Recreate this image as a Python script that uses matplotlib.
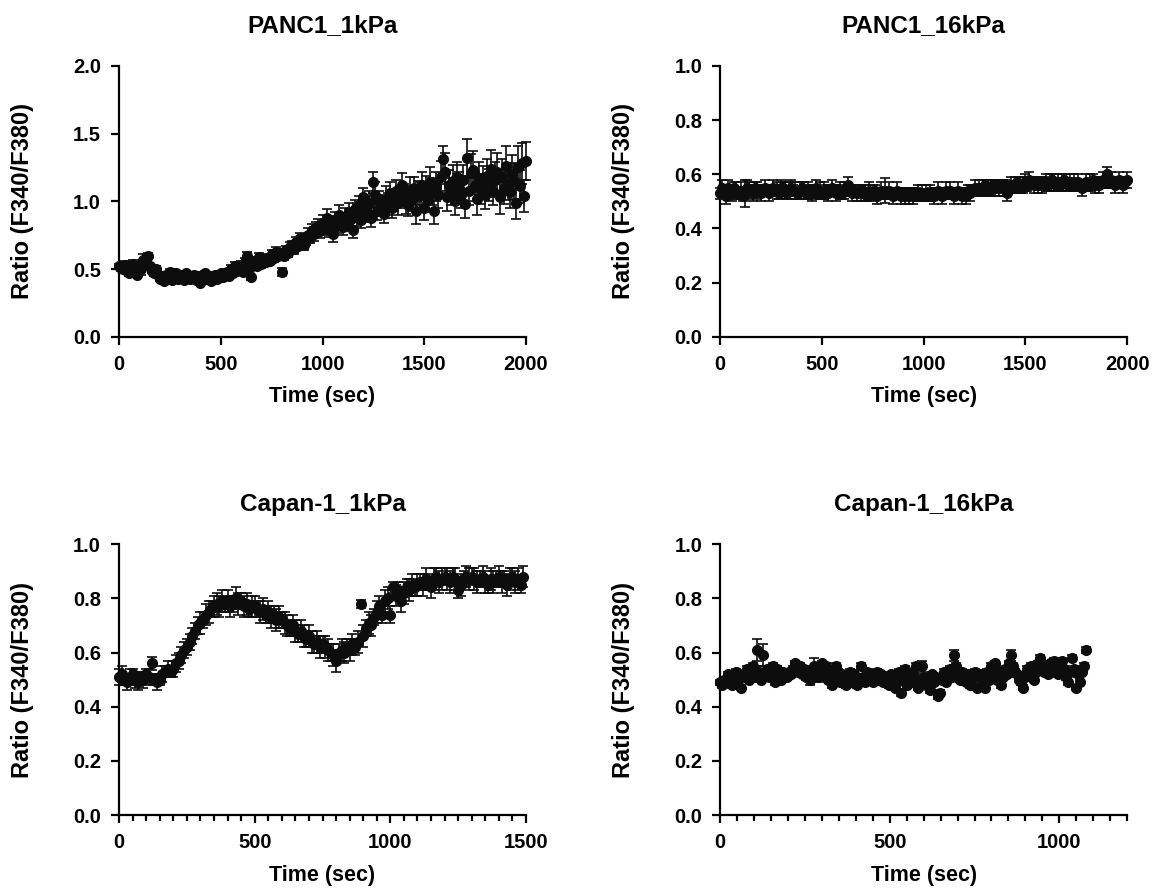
import matplotlib
matplotlib.use("Agg")
import matplotlib.pyplot as plt
from matplotlib.ticker import MultipleLocator, FormatStrFormatter

plt.rcParams['font.family'] = ['Liberation Sans', 'DejaVu Sans']
plt.rcParams['font.weight'] = 'bold'
plt.rcParams['axes.labelweight'] = 'bold'
plt.rcParams['axes.titleweight'] = 'bold'

# PANC1_1kPa, time 0..2000 every 10 s
t1 = list(range(0, 2001, 10))
r1 = [0.52, 0.51, 0.50, 0.53, 0.49, 0.47, 0.50, 0.54, 0.48, 0.46, 0.52, 0.50, 0.57, 0.55, 0.60, 0.52, 0.49, 0.47, 0.50, 0.46,
      0.43, 0.45, 0.41, 0.46, 0.44, 0.48, 0.42, 0.45, 0.47, 0.43, 0.46, 0.44, 0.42, 0.47, 0.45, 0.43, 0.44, 0.46, 0.42, 0.45,
      0.40, 0.44, 0.47, 0.43, 0.45, 0.41, 0.44, 0.46, 0.43, 0.45, 0.47, 0.44, 0.46, 0.48, 0.45, 0.50, 0.47, 0.52, 0.49, 0.51,
      0.53, 0.48, 0.55, 0.60, 0.50, 0.44, 0.53, 0.56, 0.52, 0.59, 0.54, 0.57, 0.55, 0.58, 0.56, 0.61, 0.58, 0.63, 0.60, 0.62,
      0.48, 0.60, 0.64, 0.62, 0.66, 0.68, 0.65, 0.70, 0.67, 0.73, 0.70, 0.68, 0.72, 0.75, 0.73, 0.78, 0.76, 0.80, 0.82, 0.78,
      0.84, 0.80, 0.88, 0.79, 0.83, 0.76, 0.86, 0.82, 0.90, 0.85, 0.81, 0.88, 0.84, 0.92, 0.87, 0.79, 0.94, 0.90, 0.97, 0.86,
      1.03, 0.95, 0.92, 0.99, 0.88, 1.14, 1.05, 0.93, 1.00, 0.97, 0.91, 1.02, 0.98, 1.06, 0.95, 1.01, 1.08, 0.99, 1.03, 1.12,
      1.05, 1.00, 0.97, 1.08, 1.02, 1.10, 0.93, 1.06, 1.04, 1.12, 0.95, 1.09, 1.01, 1.14, 1.07, 0.93, 1.11, 1.05, 1.18, 1.31,
      1.22, 1.03, 1.12, 1.07, 1.15, 1.00, 1.18, 1.10, 1.05, 1.16, 0.98, 1.32, 1.08, 1.21, 1.23, 1.11, 1.02, 1.17, 1.09, 1.14,
      1.05, 1.19, 1.12, 1.24, 1.08, 1.16, 1.22, 1.03, 1.18, 1.10, 1.26, 1.13, 1.07, 1.20, 1.15, 0.99, 1.25, 1.11, 1.28, 1.04,
      1.30]
e1 = [0.02, 0.02, 0.02, 0.03, 0.02, 0.02, 0.02, 0.03, 0.02, 0.02, 0.03, 0.04, 0.04, 0.03, 0.02, 0.02, 0.02, 0.02, 0.02, 0.02,
      0.02, 0.02, 0.02, 0.02, 0.02, 0.02, 0.02, 0.02, 0.02, 0.02, 0.02, 0.02, 0.02, 0.02, 0.02, 0.02, 0.02, 0.02, 0.02, 0.02,
      0.02, 0.02, 0.02, 0.02, 0.02, 0.02, 0.02, 0.02, 0.02, 0.02, 0.02, 0.02, 0.02, 0.02, 0.02, 0.03, 0.02, 0.03, 0.02, 0.02,
      0.03, 0.02, 0.03, 0.03, 0.02, 0.02, 0.03, 0.03, 0.02, 0.03, 0.03, 0.02, 0.03, 0.03, 0.02, 0.03, 0.03, 0.03, 0.03, 0.03,
      0.03, 0.03, 0.03, 0.03, 0.04, 0.03, 0.04, 0.04, 0.03, 0.04, 0.04, 0.04, 0.04, 0.05, 0.04, 0.05, 0.05, 0.05, 0.05, 0.05,
      0.06, 0.05, 0.06, 0.05, 0.06, 0.06, 0.06, 0.05, 0.07, 0.06, 0.06, 0.07, 0.06, 0.07, 0.06, 0.06, 0.07, 0.08, 0.07, 0.06,
      0.07, 0.08, 0.07, 0.09, 0.07, 0.08, 0.09, 0.07, 0.08, 0.08, 0.07, 0.09, 0.08, 0.08, 0.07, 0.08, 0.08, 0.09, 0.08, 0.09,
      0.08, 0.09, 0.08, 0.10, 0.09, 0.08, 0.10, 0.09, 0.10, 0.10, 0.09, 0.10, 0.09, 0.11, 0.10, 0.10, 0.11, 0.10, 0.12, 0.10,
      0.14, 0.10, 0.11, 0.10, 0.12, 0.10, 0.11, 0.12, 0.10, 0.11, 0.10, 0.14, 0.11, 0.14, 0.14, 0.11, 0.12, 0.12, 0.11, 0.12,
      0.11, 0.12, 0.12, 0.14, 0.11, 0.13, 0.14, 0.12, 0.13, 0.12, 0.15, 0.12, 0.12, 0.14, 0.13, 0.12, 0.16, 0.12, 0.15, 0.12,
      0.14]

# PANC1_16kPa, time 0..2000 every 10 s
t2 = list(range(0, 2001, 10))
r2 = [0.53, 0.55, 0.54, 0.52, 0.55, 0.54, 0.53, 0.55, 0.54, 0.53, 0.54, 0.52, 0.53, 0.55, 0.54, 0.54, 0.53, 0.55, 0.54, 0.54,
      0.53, 0.54, 0.55, 0.54, 0.53, 0.54, 0.55, 0.54, 0.54, 0.53, 0.55, 0.55, 0.54, 0.53, 0.54, 0.55, 0.54, 0.54, 0.53, 0.54,
      0.55, 0.54, 0.53, 0.54, 0.54, 0.53, 0.54, 0.55, 0.53, 0.54, 0.53, 0.54, 0.54, 0.53, 0.54, 0.55, 0.54, 0.53, 0.54, 0.54,
      0.53, 0.54, 0.55, 0.56, 0.54, 0.53, 0.54, 0.53, 0.54, 0.53, 0.54, 0.53, 0.52, 0.54, 0.53, 0.53, 0.54, 0.52, 0.53, 0.54,
      0.53, 0.54, 0.53, 0.54, 0.53, 0.52, 0.53, 0.54, 0.53, 0.52, 0.53, 0.52, 0.53, 0.52, 0.53, 0.52, 0.53, 0.53, 0.52, 0.53,
      0.52, 0.53, 0.52, 0.53, 0.53, 0.52, 0.53, 0.54, 0.53, 0.52, 0.53, 0.54, 0.53, 0.54, 0.53, 0.52, 0.53, 0.54, 0.53, 0.52,
      0.53, 0.52, 0.54, 0.53, 0.54, 0.55, 0.54, 0.55, 0.54, 0.55, 0.56, 0.55, 0.54, 0.55, 0.56, 0.55, 0.56, 0.55, 0.56, 0.55,
      0.56, 0.53, 0.55, 0.56, 0.55, 0.56, 0.57, 0.56, 0.55, 0.56, 0.57, 0.56, 0.58, 0.57, 0.56, 0.57, 0.56, 0.57, 0.56, 0.57,
      0.57, 0.56, 0.57, 0.58, 0.57, 0.56, 0.57, 0.56, 0.57, 0.58, 0.57, 0.56, 0.57, 0.56, 0.57, 0.56, 0.57, 0.56, 0.55, 0.56,
      0.57, 0.56, 0.57, 0.58, 0.56, 0.57, 0.56, 0.57, 0.58, 0.57, 0.60, 0.57, 0.58, 0.57, 0.56, 0.57, 0.58, 0.57, 0.56, 0.57,
      0.58]
e2 = [0.02, 0.03, 0.02, 0.03, 0.03, 0.02, 0.03, 0.02, 0.03, 0.02, 0.03, 0.02, 0.05, 0.03, 0.03, 0.02, 0.03, 0.02, 0.03, 0.02,
      0.03, 0.02, 0.03, 0.02, 0.03, 0.02, 0.03, 0.02, 0.03, 0.02, 0.03, 0.02, 0.03, 0.02, 0.03, 0.03, 0.02, 0.03, 0.02, 0.03,
      0.02, 0.03, 0.02, 0.03, 0.02, 0.03, 0.02, 0.03, 0.02, 0.03, 0.02, 0.03, 0.02, 0.03, 0.02, 0.03, 0.02, 0.03, 0.02, 0.03,
      0.02, 0.03, 0.02, 0.03, 0.02, 0.03, 0.02, 0.03, 0.02, 0.03, 0.02, 0.03, 0.02, 0.03, 0.02, 0.03, 0.02, 0.03, 0.02, 0.03,
      0.02, 0.045, 0.02, 0.03, 0.02, 0.03, 0.02, 0.03, 0.02, 0.03, 0.02, 0.03, 0.02, 0.03, 0.02, 0.03, 0.02, 0.03, 0.02, 0.03,
      0.02, 0.03, 0.02, 0.03, 0.02, 0.03, 0.02, 0.03, 0.02, 0.03, 0.02, 0.03, 0.02, 0.03, 0.02, 0.03, 0.02, 0.03, 0.02, 0.03,
      0.02, 0.03, 0.02, 0.03, 0.02, 0.03, 0.02, 0.03, 0.02, 0.03, 0.02, 0.03, 0.02, 0.03, 0.02, 0.03, 0.02, 0.03, 0.02, 0.03,
      0.02, 0.03, 0.02, 0.03, 0.02, 0.03, 0.02, 0.03, 0.02, 0.03, 0.03, 0.02, 0.03, 0.02, 0.03, 0.02, 0.03, 0.02, 0.03, 0.02,
      0.03, 0.02, 0.03, 0.02, 0.03, 0.02, 0.03, 0.02, 0.03, 0.02, 0.03, 0.02, 0.03, 0.02, 0.03, 0.02, 0.03, 0.02, 0.03, 0.02,
      0.03, 0.02, 0.03, 0.02, 0.03, 0.02, 0.03, 0.02, 0.03, 0.02, 0.025, 0.02, 0.03, 0.02, 0.03, 0.02, 0.03, 0.02, 0.03, 0.02,
      0.03]

# Capan-1_1kPa, time 0..1490 every 10 s
t3 = list(range(0, 1500, 10))
r3 = [0.51, 0.52, 0.50, 0.49, 0.51, 0.52, 0.50, 0.49, 0.51, 0.50,
      0.52, 0.51, 0.56, 0.50, 0.49, 0.50, 0.52, 0.53, 0.54, 0.53,
      0.54, 0.56, 0.57, 0.59, 0.61, 0.62, 0.64, 0.66, 0.68, 0.70,
      0.71, 0.72, 0.74, 0.75, 0.76, 0.77, 0.78, 0.77, 0.79, 0.78,
      0.79, 0.77, 0.78, 0.80, 0.78, 0.79, 0.77, 0.78, 0.76, 0.77,
      0.77, 0.76, 0.75, 0.76, 0.74, 0.75, 0.73, 0.74, 0.72, 0.73,
      0.72, 0.71, 0.70, 0.69, 0.70, 0.68, 0.67, 0.68, 0.66, 0.65,
      0.66, 0.64, 0.63, 0.64, 0.62, 0.63, 0.62, 0.61, 0.60, 0.59,
      0.57, 0.60, 0.61, 0.60, 0.62, 0.61, 0.63, 0.62, 0.64, 0.78,
      0.66, 0.69, 0.71, 0.70, 0.73, 0.75, 0.77, 0.74, 0.79, 0.80,
      0.74, 0.84, 0.81, 0.83, 0.79, 0.82, 0.84, 0.83, 0.85, 0.84,
      0.85, 0.86, 0.85, 0.87, 0.86, 0.84, 0.87, 0.88, 0.86, 0.87,
      0.88, 0.87, 0.86, 0.88, 0.87, 0.83, 0.85, 0.87, 0.88, 0.87,
      0.88, 0.87, 0.86, 0.87, 0.88, 0.86, 0.85, 0.87, 0.86, 0.87,
      0.88, 0.86, 0.87, 0.85, 0.87, 0.88, 0.86, 0.87, 0.85, 0.88]
e3 = [0.03, 0.03, 0.02, 0.03, 0.03, 0.02, 0.03, 0.03, 0.02, 0.03,
      0.02, 0.03, 0.025, 0.02, 0.03, 0.02, 0.03, 0.02, 0.03, 0.02,
      0.03, 0.03, 0.03, 0.03, 0.03, 0.03, 0.03, 0.03, 0.03, 0.03,
      0.04, 0.03, 0.04, 0.04, 0.03, 0.04, 0.04, 0.04, 0.04, 0.03,
      0.04, 0.04, 0.03, 0.04, 0.04, 0.03, 0.04, 0.04, 0.03, 0.04,
      0.04, 0.03, 0.04, 0.04, 0.03, 0.04, 0.04, 0.03, 0.04, 0.04,
      0.03, 0.04, 0.04, 0.03, 0.04, 0.04, 0.03, 0.04, 0.04, 0.03,
      0.04, 0.04, 0.03, 0.04, 0.04, 0.03, 0.04, 0.04, 0.03, 0.04,
      0.04, 0.03, 0.04, 0.04, 0.03, 0.04, 0.04, 0.03, 0.04, 0.015,
      0.04, 0.03, 0.04, 0.04, 0.03, 0.04, 0.04, 0.03, 0.04, 0.04,
      0.03, 0.02, 0.04, 0.03, 0.04, 0.04, 0.03, 0.04, 0.04, 0.03,
      0.04, 0.03, 0.04, 0.04, 0.03, 0.04, 0.04, 0.03, 0.04, 0.04,
      0.03, 0.04, 0.04, 0.03, 0.04, 0.03, 0.04, 0.03, 0.04, 0.04,
      0.03, 0.04, 0.04, 0.03, 0.04, 0.04, 0.03, 0.04, 0.04, 0.03,
      0.04, 0.04, 0.03, 0.04, 0.04, 0.03, 0.04, 0.04, 0.03, 0.04]

# Capan-1_16kPa, time 0..1080 every 6 s
t4 = list(range(0, 1081, 6))
r4 = [0.49, 0.48, 0.50, 0.49, 0.52, 0.50, 0.48, 0.51, 0.53, 0.50, 0.47, 0.52, 0.51, 0.54, 0.50, 0.52, 0.55, 0.51, 0.61, 0.53,
      0.50, 0.59, 0.52, 0.54, 0.51, 0.53, 0.55, 0.49, 0.54, 0.52, 0.50, 0.53, 0.52, 0.51, 0.53, 0.52, 0.54, 0.56, 0.53, 0.55,
      0.52, 0.54, 0.51, 0.53, 0.50, 0.52, 0.55, 0.53, 0.51, 0.54, 0.56, 0.52, 0.55, 0.50, 0.53, 0.48, 0.51, 0.55, 0.53, 0.49,
      0.52, 0.50, 0.48, 0.51, 0.53, 0.49, 0.52, 0.48, 0.50, 0.55, 0.51, 0.49, 0.53, 0.50, 0.52, 0.49, 0.51, 0.53, 0.50, 0.52,
      0.49, 0.51, 0.50, 0.48, 0.52, 0.50, 0.47, 0.49, 0.53, 0.45, 0.50, 0.54, 0.48, 0.51, 0.49, 0.52, 0.55, 0.47, 0.50, 0.55,
      0.51, 0.48, 0.50, 0.46, 0.52, 0.49, 0.51, 0.44, 0.45, 0.50, 0.53, 0.49, 0.52, 0.54, 0.51, 0.59, 0.55, 0.52, 0.50, 0.53,
      0.51, 0.49, 0.52, 0.48, 0.50, 0.53, 0.47, 0.51, 0.52, 0.49, 0.47, 0.53, 0.50, 0.55, 0.52, 0.56, 0.50, 0.53, 0.48, 0.51,
      0.54, 0.52, 0.56, 0.59, 0.55, 0.53, 0.52, 0.50, 0.49, 0.47, 0.51, 0.54, 0.52, 0.55, 0.50, 0.53, 0.56, 0.58, 0.54, 0.53,
      0.55, 0.52, 0.56, 0.54, 0.57, 0.53, 0.52, 0.55, 0.57, 0.54, 0.51, 0.49, 0.53, 0.58, 0.54, 0.47, 0.52, 0.49, 0.53, 0.55,
      0.61]
e4 = [0.01, 0.01, 0.01, 0.01, 0.01, 0.01, 0.01, 0.01, 0.01, 0.01, 0.01, 0.01, 0.01, 0.01, 0.01, 0.01, 0.01, 0.02, 0.04, 0.02,
      0.01, 0.04, 0.01, 0.01, 0.01, 0.01, 0.01, 0.01, 0.01, 0.01, 0.01, 0.01, 0.01, 0.01, 0.01, 0.01, 0.01, 0.01, 0.01, 0.01,
      0.01, 0.01, 0.01, 0.01, 0.02, 0.02, 0.03, 0.02, 0.02, 0.01, 0.01, 0.01, 0.01, 0.01, 0.01, 0.01, 0.01, 0.01, 0.01, 0.01,
      0.01, 0.01, 0.01, 0.01, 0.01, 0.01, 0.01, 0.01, 0.01, 0.01, 0.01, 0.01, 0.01, 0.01, 0.01, 0.01, 0.01, 0.01, 0.01, 0.01,
      0.01, 0.01, 0.01, 0.01, 0.01, 0.01, 0.01, 0.01, 0.01, 0.01, 0.01, 0.01, 0.01, 0.01, 0.01, 0.02, 0.01, 0.01, 0.01, 0.02,
      0.01, 0.01, 0.01, 0.01, 0.01, 0.01, 0.01, 0.01, 0.01, 0.01, 0.01, 0.01, 0.01, 0.01, 0.01, 0.02, 0.01, 0.01, 0.01, 0.01,
      0.01, 0.01, 0.01, 0.01, 0.01, 0.01, 0.01, 0.01, 0.01, 0.01, 0.01, 0.01, 0.01, 0.01, 0.01, 0.01, 0.01, 0.01, 0.01, 0.01,
      0.01, 0.01, 0.01, 0.02, 0.01, 0.01, 0.01, 0.01, 0.01, 0.01, 0.01, 0.01, 0.01, 0.01, 0.01, 0.01, 0.01, 0.01, 0.01, 0.01,
      0.01, 0.01, 0.01, 0.01, 0.01, 0.01, 0.01, 0.01, 0.01, 0.01, 0.01, 0.01, 0.01, 0.01, 0.01, 0.01, 0.01, 0.01, 0.01, 0.01,
      0.01]

panels = [
    ("PANC1_1kPa", t1, r1, e1, 2000, 2.0, 0.5, None),
    ("PANC1_16kPa", t2, r2, e2, 2000, 1.0, 0.2, None),
    ("Capan-1_1kPa", t3, r3, e3, 1500, 1.0, 0.2, 50),
    ("Capan-1_16kPa", t4, r4, e4, 1200, 1.0, 0.2, 50),
]

fig = plt.figure(figsize=(11.56, 8.89), dpi=100)
boxes = [(0.103, 0.621, 0.352, 0.305), (0.623, 0.621, 0.352, 0.305),
         (0.103, 0.083, 0.352, 0.305), (0.623, 0.083, 0.352, 0.305)]

for (title, t, r, e, xmax, ymax, ystep, minor), box in zip(panels, boxes):
    ax = fig.add_axes(box)
    ax.errorbar(t, r, yerr=e, fmt='o', color='#0d0d0d', ms=7, capsize=3.8,
                elinewidth=1.2, capthick=1.2, clip_on=False, zorder=3)
    ax.set_xlim(0, xmax)
    ax.set_ylim(0, ymax)
    ax.xaxis.set_major_locator(MultipleLocator(500))
    if minor:
        ax.xaxis.set_minor_locator(MultipleLocator(minor))
    ax.yaxis.set_major_locator(MultipleLocator(ystep))
    ax.yaxis.set_major_formatter(FormatStrFormatter('%.1f'))
    for side in ['top', 'right']:
        ax.spines[side].set_visible(False)
    for side in ['left', 'bottom']:
        ax.spines[side].set_linewidth(1.6)
    ax.tick_params(which='major', length=6, width=1.6, labelsize=14.5, pad=7)
    ax.tick_params(which='minor', length=4, width=1.6)
    ax.set_title(title, fontsize=17.5, pad=24)
    ax.set_xlabel("Time (sec)", fontsize=15.5, labelpad=9)
    ax.set_ylabel("Ratio (F340/F380)", fontsize=17, labelpad=28)

fig.savefig("out.png", dpi=100)
